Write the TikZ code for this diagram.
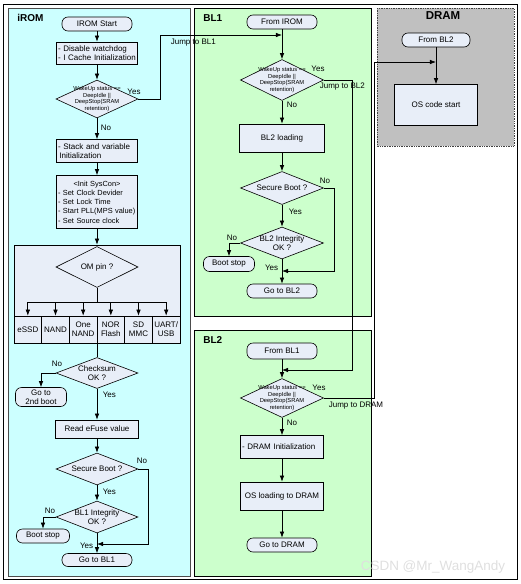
\documentclass[tikz,border=0pt]{standalone}
\usepackage{fontspec}
\setmainfont{Liberation Sans}
\usetikzlibrary{shapes.geometric,arrows.meta}

\definecolor{romcyan}{HTML}{CCFFFF}
\definecolor{blgreen}{HTML}{CCFFCC}
\definecolor{dramgray}{HTML}{C0C0C0}
\definecolor{boxfill}{HTML}{E8EEF8}

\begin{document}
\begin{tikzpicture}[x=1pt, y=-1pt, >=Latex, line width=0.7pt, font=\fontsize{8}{9}\selectfont,
  box/.style={draw, fill=boxfill, inner sep=1pt, align=center, line width=0.6pt},
  pill/.style={box, rounded corners=6pt},
  decision/.style={draw, fill=boxfill, diamond, inner sep=0pt, line width=0.6pt},
  tiny/.style={font=\fontsize{5.8}{6.7}\selectfont, align=center, inner sep=0pt},
  lbl/.style={inner sep=0.5pt},
  title/.style={font=\fontsize{10}{12}\selectfont\bfseries, anchor=west, inner sep=0pt}]
\useasboundingbox (0,0) rectangle (521,584);
\draw[line width=0.8pt] (3.5,4) rectangle (517,579.5);

% panels
\filldraw[fill=romcyan, draw=gray!60!black] (8,8) rectangle (190,576);
\filldraw[fill=blgreen, draw=black] (194,8) rectangle (371,316);
\filldraw[fill=blgreen, draw=black] (194,330) rectangle (371,576);
\filldraw[fill=dramgray, draw=gray!50!black, densely dotted] (377,8) rectangle (514,146);
\node[title] (trom) at (17,18) {iROM};
\node[title] (tbl1) at (203,18) {BL1};
\node[title] (tbl2) at (203,340) {BL2};
\node[title, font=\fontsize{11.5}{13}\selectfont\bfseries, anchor=center] (tdram) at (443,16) {DRAM};

% iROM
\node[pill, minimum width=70pt, minimum height=14pt] (romstart) at (97,24) {IROM Start};
\node[box, minimum width=81pt, minimum height=22pt, text width=78pt, align=left] (wdog) at (97,53) {- Disable watchdog\\- I Cache Initialization};
\node[decision, minimum width=82pt, minimum height=38pt,
  label={[tiny]center:WakeUp status ==\\DeepIdle ||\\DeepStop(SRAM\\retention)}] (wake1) at (97,99) {};
\node[box, minimum width=81pt, minimum height=23pt, text width=78pt, align=left] (stack) at (97,151) {- Stack and variable\\\hspace{1.5pt}Initialization};
\node[box, minimum width=81pt, minimum height=53pt, text width=78pt, align=left,
  font=\fontsize{7.4}{9.3}\selectfont] (syscon) at (97,202)
  {\makebox[78pt]{<Init SysCon>}\\- Set Clock Devider\\- Set Lock Time\\- Start PLL(MPS value)\\- Set Source clock};
\node[box, minimum width=166pt, minimum height=98pt] (omgrp) at (97,294) {};
\node[decision, minimum width=82pt, minimum height=41pt, label={[tiny, font=\fontsize{8}{9}\selectfont]center:OM pin ?}] (om) at (97,267) {};
\foreach \t [count=\i from 0] in {eSSD, NAND, One\\NAND, NOR\\Flash, SD\\MMC, UART/\\USB}
  \node[box, minimum width=27.67pt, minimum height=27pt, inner sep=0pt] (m\i) at ({27.83+27.67*\i},329.5) {\t};
\coordinate (bus) at (97,302);
\node[decision, minimum width=82pt, minimum height=31pt, label={[tiny, font=\fontsize{8}{9}\selectfont]center:Checksum\\OK ?}] (chk) at (97,373) {};
\node[pill, minimum width=51pt, minimum height=19pt, font=\fontsize{8}{8.5}\selectfont] (boot2) at (41,397) {Go to\\2nd boot};
\node[box, minimum width=83pt, minimum height=18pt] (efuse) at (97,429) {Read eFuse value};
\node[decision, minimum width=82pt, minimum height=32pt, label={[tiny, font=\fontsize{8}{9}\selectfont]center:Secure Boot ?}] (sec1) at (97,469) {};
\node[decision, minimum width=82pt, minimum height=32pt, label={[tiny, font=\fontsize{8}{8.5}\selectfont]center:BL1 Integrity\\OK ?}] (int1) at (97,517) {};
\node[pill, minimum width=53pt, minimum height=14pt] (stop1) at (43,536) {Boot stop};
\node[pill, minimum width=70pt, minimum height=13pt] (go1) at (97,560) {Go to BL1};
\coordinate (jbl1) at (282,35);
\coordinate (jsec1) at (97,544);

% BL1
\node[pill, minimum width=70pt, minimum height=14pt] (fromrom) at (282,22) {From IROM};
\node[decision, minimum width=83pt, minimum height=41pt,
  label={[tiny]center:WakeUp status ==\\DeepIdle ||\\DeepStop(SRAM\\retention)}] (wake2) at (282,80) {};
\node[box, minimum width=85pt, minimum height=28pt] (bl2load) at (282,138) {BL2 loading};
\node[decision, minimum width=83pt, minimum height=33pt, label={[tiny, font=\fontsize{8}{9}\selectfont]center:Secure Boot ?}] (sec2) at (282,188) {};
\node[decision, minimum width=83pt, minimum height=32pt, label={[tiny, font=\fontsize{8}{8.5}\selectfont]center:BL2 Integrity\\OK ?}] (int2) at (282,243) {};
\node[pill, minimum width=51pt, minimum height=15pt] (stop2) at (229,264) {Boot stop};
\node[pill, minimum width=70pt, minimum height=14pt] (gobl2) at (282,291) {Go to BL2};
\coordinate (jsec2) at (282,271);
\coordinate (jbl2) at (282,370);

% BL2
\node[pill, minimum width=70pt, minimum height=16pt] (frombl1) at (282,351) {From BL1};
\node[decision, minimum width=83pt, minimum height=39pt,
  label={[tiny]center:WakeUp status ==\\DeepIdle ||\\DeepStop(SRAM\\retention)}] (wake3) at (282,398) {};
\node[box, minimum width=83pt, minimum height=23pt, text width=80pt, align=left] (dinit) at (282,447) {- DRAM Initialization};
\node[box, minimum width=83pt, minimum height=28pt] (osload) at (282,496) {OS loading to DRAM};
\node[pill, minimum width=70pt, minimum height=14pt] (godram) at (282,545) {Go to DRAM};
\coordinate (jdram) at (436,62);

% DRAM
\node[pill, minimum width=68pt, minimum height=14pt] (frombl2) at (436,40) {From BL2};
\node[box, minimum width=83pt, minimum height=41pt] (oscode) at (436,105) {OS code start};

% connectors
\draw[->] (romstart) -- (wdog);
\draw[->] (wdog) -- (wake1);
\draw[->] (wake1) -- (stack);
\draw[->] (stack) -- (syscon);
\draw[->] (syscon) -- (omgrp);
\draw (om.south) -- (bus);
\draw (m0.north |- bus) -- (m5.north |- bus);
\foreach \i in {0,...,5}
  \draw[->] (m\i.north |- bus) -- (m\i.north);
\draw (omgrp.south) -- (chk.north);
\draw[->] (chk.west) -| (boot2.north);
\draw[->] (chk) -- (efuse);
\draw[->] (efuse) -- (sec1);
\draw[->] (sec1) -- (int1);
\draw[->] (int1.west) -| (stop1.north);
\draw[->] (int1) -- (go1);
\draw[->] (sec1.east) -- ++(10,0) |- (jsec1);
\draw[->] (wake1.east) -- ++(22,0) |- (jbl1);

\draw[->] (fromrom) -- (wake2);
\draw[->] (wake2) -- (bl2load);
\draw[->] (bl2load) -- (sec2);
\draw[->] (sec2) -- (int2);
\draw[->] (int2.west) -| (stop2.north);
\draw[->] (int2) -- (gobl2);
\draw[->] (sec2.east) -- ++(11,0) |- (jsec2);
\draw[->] (wake2.east) -- ++(29,0) |- (jbl2);

\draw[->] (frombl1) -- (wake3);
\draw[->] (wake3) -- (dinit);
\draw[->] (dinit) -- (osload);
\draw[->] (osload) -- (godram);
\draw[->] (wake3.east) -- ++(51,0) |- (jdram);
\draw[->] (frombl2) -- (oscode);

% labels
\node[lbl] (y1) at (134,92) {Yes};
\node[lbl, anchor=west] (n1) at (100,128) {No};
\node[lbl, anchor=west] (jump1) at (170,43) {Jump to BL1};
\node[lbl] (n2) at (57,364) {No};
\node[lbl, anchor=west] (y2) at (102,395) {Yes};
\node[lbl] (n3) at (142,461) {No};
\node[lbl, anchor=west] (y3) at (102,492) {Yes};
\node[lbl] (n4) at (50,511) {No};
\node[lbl, anchor=east] (y4) at (94,546) {Yes};
\node[lbl] (y5) at (318,69) {Yes};
\node[lbl, anchor=west] (n5) at (286,105) {No};
\node[lbl, anchor=west] (jump2) at (319,87) {Jump to BL2};
\node[lbl] (n6) at (325,181) {No};
\node[lbl, anchor=west] (y6) at (288,212) {Yes};
\node[lbl] (n7) at (232,238) {No};
\node[lbl, anchor=east] (y7) at (279,268) {Yes};
\node[lbl] (y8) at (319,388) {Yes};
\node[lbl, anchor=west] (n8) at (286,423) {No};
\node[lbl, anchor=west] (jump3) at (328,406) {Jump to DRAM};
\node[font=\fontsize{13.5}{15}\selectfont, text=gray!25] (mark) at (433,567) {CSDN @Mr\_WangAndy};
\end{tikzpicture}
\end{document}
